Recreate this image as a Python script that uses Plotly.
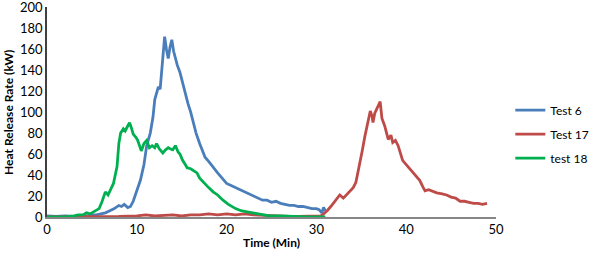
import plotly.graph_objects as go

# Test 6
t6 = [0, 1, 2, 3, 4, 4.5, 5, 5.5, 6, 6.5, 7, 7.5, 8, 8.3, 8.6, 9, 9.3, 9.6, 10, 10.4, 10.8, 11.1, 11.5, 11.8,
      12, 12.2, 12.4, 12.6, 12.8, 13, 13.1, 13.3, 13.5, 13.7, 13.9, 14.1, 14.3, 14.5, 14.8, 15.1, 15.4, 15.7,
      16, 16.3, 16.6, 17, 17.3, 17.6, 18, 18.5, 19, 19.5, 20, 20.5, 21, 21.5, 22, 22.5, 23, 23.5, 24, 24.5,
      25, 25.5, 26, 26.5, 27, 27.5, 28, 28.5, 29, 29.5, 30, 30.3, 30.6, 30.8, 31]
v6 = [1, 0.5, 1, 0.5, 1, 1, 2, 2, 3, 4, 6, 8, 11, 10, 12, 9, 10, 15, 25, 35, 50, 68, 80, 95,
      112, 118, 124, 122, 140, 160, 172, 160, 151, 162, 169, 158, 151, 145, 138, 127, 117, 108,
      100, 90, 80, 70, 64, 57, 53, 47, 42, 37, 32, 30, 28, 26, 24, 22, 20, 18, 16, 16,
      14, 15, 13, 12, 11, 11, 10, 10, 9, 8, 8, 7, 4, 9, 6]

# Test 17
t17 = [0, 2, 4, 6, 8, 10, 11, 12, 13, 14, 15, 16, 17, 18, 19, 20, 21, 22, 23, 24, 25, 26, 27, 28, 29, 30,
       30.5, 30.8, 31.2, 31.6, 32, 32.3, 32.6, 33, 33.4, 33.8, 34.1, 34.4, 34.6, 34.9, 35.1, 35.4, 35.7,
       36, 36.2, 36.3, 36.5, 36.8, 37.1, 37.3, 37.6, 38, 38.3, 38.5, 38.8, 39.1, 39.4, 39.6, 40, 40.4,
       40.8, 41.2, 41.5, 41.9, 42.1, 42.5, 43, 43.4, 44, 44.5, 45, 45.5, 46, 46.5, 47, 47.5, 48, 48.5, 49]
v17 = [0, 0, 0.5, 0.5, 0.5, 1, 2, 1, 1.5, 2, 1, 2, 2, 3, 2, 3, 2, 3, 2, 1.5, 1, 1, 0.5, 0.5, 0.5, 1,
       1, 3, 6, 10, 14, 18, 21, 18, 22, 25, 28, 33, 41, 52, 63, 77, 88,
       101, 96, 90, 99, 104, 110, 94, 87, 74, 78, 71, 73, 68, 60, 54, 50, 46,
       41, 37, 35, 28, 25, 26, 24, 23, 22, 21, 19, 18, 15, 15, 14, 13, 13, 12, 13]

# test 18
t18 = [0, 1, 2, 3, 3.5, 4, 4.4, 4.8, 5.2, 5.5, 5.8, 6.1, 6.3, 6.5, 6.8, 7.1, 7.4, 7.6, 7.8, 8.0, 8.2, 8.5,
       8.7, 9.0, 9.2, 9.4, 9.6, 9.9, 10.1, 10.3, 10.5, 10.8, 11.1, 11.4, 11.7, 12.0, 12.2, 12.5, 12.9,
       13.2, 13.5, 13.7, 14.0, 14.3, 14.6, 14.8, 15.1, 15.4, 15.6, 16.0, 16.3, 16.7, 17.0, 17.3, 17.6,
       18, 18.5, 19, 19.6, 20.2, 21, 21.6, 22.3, 23, 23.8, 24.8, 26, 27, 28, 29, 30, 31]
v18 = [0, 0, 0, 1, 2, 2, 4, 3, 5, 6, 8, 14, 20, 24, 21, 26, 32, 40, 48, 70, 80, 84,
       82, 87, 90, 85, 79, 76, 73, 68, 63, 70, 73, 66, 68, 66, 70, 65, 61,
       64, 66, 65, 64, 68, 62, 60, 54, 50, 47, 46, 44, 42, 37, 34, 32,
       28, 24, 21, 16, 12, 8, 6, 5, 4, 3, 1, 1, 0.5, 0.5, 0, 0, 0]

series = [("Test 6", t6, v6, "#4A7EBB"),
          ("Test 17", t17, v17, "#BE4B48"),
          ("test 18", t18, v18, "#00B050")]

x_ticks = [0, 10, 20, 30, 40, 50]
y_ticks = [0, 20, 40, 60, 80, 100, 120, 140, 160, 180, 200]

FONT = "Lato"

fig = go.Figure()
for name, t, v, c in series:
    fig.add_trace(go.Scatter(x=t, y=v, name=name, mode="lines", legendgroup=name,
                             line=dict(color=c, width=2.8)))

fig.update_layout(
    width=592, height=253,
    margin=dict(l=47, r=96, t=7, b=36),
    paper_bgcolor="white", plot_bgcolor="white",
    font=dict(family=FONT, size=13, color="#000000"),
    showlegend=True,
    legend=dict(xref="container", yref="container", x=0.862, y=0.47,
                xanchor="left", yanchor="middle", itemwidth=30,
                traceorder="grouped", tracegroupgap=5,
                font=dict(family=FONT, size=12), bgcolor="rgba(0,0,0,0)",
                borderwidth=0),
    xaxis=dict(range=[0, 50], tickvals=x_ticks, showgrid=False, zeroline=False,
               showline=True, linecolor="#868686", linewidth=1.5, ticks="",
               automargin=False, ticklabeloverflow="allow", tickfont=dict(size=13)),
    yaxis=dict(range=[0, 200.2], tickvals=y_ticks, showgrid=False, zeroline=False,
               showline=True, linecolor="#404040", linewidth=1.5, ticks="",
               automargin=False, ticklabeloverflow="allow", tickfont=dict(size=13)),
    annotations=[
        dict(text="<b>Time (Min)</b>", xref="paper", yref="paper", x=0.5, y=-0.165,
             xanchor="center", yanchor="bottom", showarrow=False,
             font=dict(family=FONT, size=12)),
        dict(text="<b>Heat Release Rate (kW)</b>", xref="paper", yref="paper",
             x=-0.087, y=0.5, xanchor="center", yanchor="middle", textangle=-90,
             showarrow=False, font=dict(family=FONT, size=12)),
    ],
)

fig.write_html("out.html", config={"displayModeBar": False},
               post_script="document.body.style.margin='0';")
